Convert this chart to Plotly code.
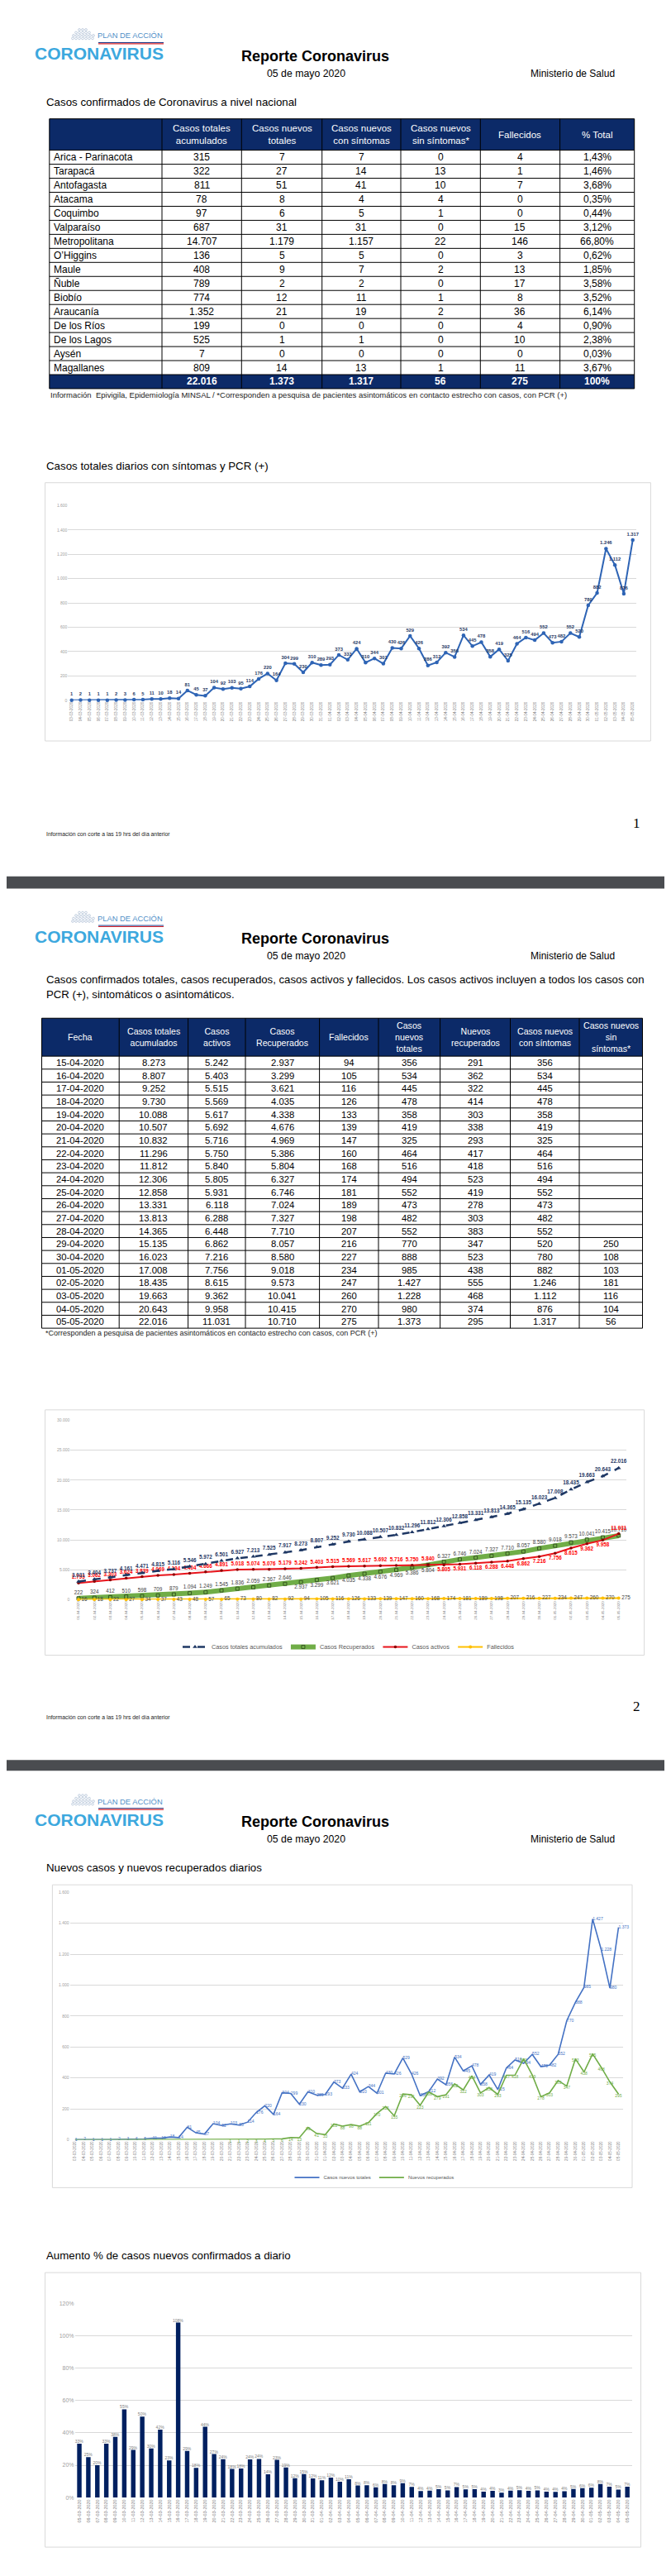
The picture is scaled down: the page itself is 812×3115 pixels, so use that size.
import pandas as pd
import plotly.graph_objects as go

W, H = 812, 3115
FONT = "Liberation Sans, Arial, sans-serif"
NAVY = "#0C2A68"

# ---------------- DATA ----------------
regiones = ["Arica - Parinacota", "Tarapacá", "Antofagasta", "Atacama", "Coquimbo", "Valparaíso",
            "Metropolitana", "O’Higgins", "Maule", "Ñuble", "Biobío", "Araucanía", "De los Ríos",
            "De los Lagos", "Aysén", "Magallanes"]
reg_totales_acum = [315, 322, 811, 78, 97, 687, 14707, 136, 408, 789, 774, 1352, 199, 525, 7, 809]
reg_nuevos_totales = [7, 27, 51, 8, 6, 31, 1179, 5, 9, 2, 12, 21, 0, 1, 0, 14]
reg_nuevos_con_sint = [7, 14, 41, 4, 5, 31, 1157, 5, 7, 2, 11, 19, 0, 1, 0, 13]
reg_nuevos_sin_sint = [0, 13, 10, 4, 1, 0, 22, 0, 2, 0, 1, 2, 0, 0, 0, 1]
reg_fallecidos = [4, 1, 7, 0, 0, 15, 146, 3, 13, 17, 8, 36, 4, 10, 0, 11]
reg_pct_total = ["1,43%", "1,46%", "3,68%", "0,35%", "0,44%", "3,12%", "66,80%", "0,62%", "1,85%",
                 "3,58%", "3,52%", "6,14%", "0,90%", "2,38%", "0,03%", "3,67%"]
fila_total = ["", "22.016", "1.373", "1.317", "56", "275", "100%"]
t1_encabezados = ["", "Casos totales<br>acumulados", "Casos nuevos<br>totales",
                  "Casos nuevos<br>con síntomas", "Casos nuevos<br>sin síntomas*", "Fallecidos",
                  "% Total"]

t2_fechas = ["15-04-2020", "16-04-2020", "17-04-2020", "18-04-2020", "19-04-2020", "20-04-2020",
             "21-04-2020", "22-04-2020", "23-04-2020", "24-04-2020", "25-04-2020", "26-04-2020",
             "27-04-2020", "28-04-2020", "29-04-2020", "30-04-2020", "01-05-2020", "02-05-2020",
             "03-05-2020", "04-05-2020", "05-05-2020"]
t2_totales = [8273, 8807, 9252, 9730, 10088, 10507, 10832, 11296, 11812, 12306, 12858, 13331, 13813,
              14365, 15135, 16023, 17008, 18435, 19663, 20643, 22016]
t2_activos = [5242, 5403, 5515, 5569, 5617, 5692, 5716, 5750, 5840, 5805, 5931, 6118, 6288, 6448,
              6862, 7216, 7756, 8615, 9362, 9958, 11031]
t2_recuperados = [2937, 3299, 3621, 4035, 4338, 4676, 4969, 5386, 5804, 6327, 6746, 7024, 7327, 7710,
                  8057, 8580, 9018, 9573, 10041, 10415, 10710]
t2_fallecidos = [94, 105, 116, 126, 133, 139, 147, 160, 168, 174, 181, 189, 198, 207, 216, 227, 234,
                 247, 260, 270, 275]
t2_nuevos_totales = [356, 534, 445, 478, 358, 419, 325, 464, 516, 494, 552, 473, 482, 552, 770, 888,
                     985, 1427, 1228, 980, 1373]
t2_nuevos_recuperados = [291, 362, 322, 414, 303, 338, 293, 417, 418, 523, 419, 278, 303, 383, 347,
                         523, 438, 555, 468, 374, 295]
t2_con_sintomas = [356, 534, 445, 478, 358, 419, 325, 464, 516, 494, 552, 473, 482, 552, 520, 780,
                   882, 1246, 1112, 876, 1317]
t2_sin_sintomas = [None] * 14 + [250, 108, 103, 181, 116, 104, 56]
t2_encabezados = ["Fecha", "Casos totales<br>acumulados", "Casos<br>activos", "Casos<br>Recuperados",
                  "Fallecidos", "Casos<br>nuevos<br>totales", "Nuevos<br>recuperados",
                  "Casos nuevos<br>con síntomas", "Casos nuevos<br>sin<br>síntomas*"]

# Chart 1: daily new cases with symptoms, 03-03-2020 .. 05-05-2020
fechas_c1 = [d.strftime("%d-%m-%Y") for d in pd.date_range("2020-03-03", "2020-05-05")]
c1_con_sintomas = [1, 2, 1, 1, 1, 2, 3, 6, 5, 11, 10, 18, 14, 81, 45, 37, 104, 92, 103, 95, 114, 176,
                   220, 164, 304, 299, 230, 310, 289, 293, 373, 333, 424, 310, 344, 301, 430, 426, 529,
                   426, 286, 312, 392, 356, 534, 445, 478, 358, 419, 325, 464, 516, 494, 552, 473, 482,
                   552, 520, 780, 882, 1246, 1112, 876, 1317]

# Chart 2: 01-04-2020 .. 05-05-2020
fechas_c2 = [d.strftime("%d-%m-%Y") for d in pd.date_range("2020-04-01", "2020-05-05")]
c2_totales = [3031, 3404, 3737, 4161, 4471, 4815, 5116, 5546, 5972, 6501, 6927, 7213, 7525, 7917,
              8273, 8807, 9252, 9730, 10088, 10507, 10832, 11296, 11812, 12306, 12858, 13331, 13813,
              14365, 15135, 16023, 17008, 18435, 19663, 20643, 22016]
c2_recuperados = [222, 324, 412, 510, 598, 709, 879, 1094, 1249, 1545, 1836, 2059, 2367, 2646, 2937,
                  3299, 3621, 4035, 4338, 4676, 4969, 5386, 5804, 6327, 6746, 7024, 7327, 7710, 8057,
                  8580, 9018, 9573, 10041, 10415, 10710]
c2_activos = [2793, 3062, 3303, 3624, 3839, 4069, 4194, 4404, 4666, 4891, 5018, 5074, 5076, 5179,
              5242, 5403, 5515, 5569, 5617, 5692, 5716, 5750, 5840, 5805, 5931, 6118, 6288, 6448,
              6862, 7216, 7756, 8615, 9362, 9958, 11031]
c2_fallecidos = [16, 18, 22, 27, 34, 37, 43, 48, 57, 65, 73, 80, 82, 92, 94, 105, 116, 126, 133, 139,
                 147, 160, 168, 174, 181, 189, 198, 207, 216, 227, 234, 247, 260, 270, 275]

# Chart 3: 03-03-2020 .. 05-05-2020
c3_nuevos_totales = [1, 2, 1, 1, 1, 2, 3, 6, 5, 11, 10, 18, 14, 81, 45, 37, 104, 92, 103, 95, 114,
                     176, 220, 164, 304, 299, 230, 310, 289, 293, 373, 333, 424, 310, 344, 301, 430,
                     426, 529, 426, 286, 312, 392, 356, 534, 445, 478, 358, 419, 325, 464, 516, 494,
                     552, 473, 482, 552, 770, 888, 985, 1427, 1228, 980, 1373]
c3_nuevos_recuperados = [0, 0, 0, 0, 0, 0, 0, 0, 0, 0, 0, 0, 0, 0, 0, 0, 0, 0, 1, 1, 2, 3, 4, 5, 6,
                         14, 13, 80, 41, 33, 102, 88, 98, 88, 111, 170, 215, 155, 296, 291, 223, 308,
                         279, 291, 362, 322, 414, 303, 338, 293, 417, 418, 523, 419, 278, 303, 383,
                         347, 523, 438, 555, 468, 374, 295]

# Chart 4: 05-03-2020 .. 05-05-2020 (% daily increase)
fechas_c4 = [d.strftime("%d-%m-%Y") for d in pd.date_range("2020-03-05", "2020-05-05")]
c4_aumento = [33.3, 25.0, 20.0, 33.3, 37.5, 54.5, 29.4, 50.0, 30.3, 41.9, 23.0, 108.0, 28.8, 18.4,
              43.7, 26.9, 23.7, 17.7, 18.0, 23.6, 23.9, 14.4, 23.3, 18.6, 12.0, 14.5, 11.8, 10.7,
              12.3, 9.8, 11.3, 7.5, 7.7, 6.3, 8.4, 7.7, 8.9, 6.6, 4.1, 4.3, 5.2, 4.5, 6.5, 5.1, 5.2,
              3.7, 4.2, 3.1, 4.3, 4.6, 4.2, 4.5, 3.7, 3.6, 4.0, 5.4, 5.9, 6.1, 8.4, 6.7, 5.0, 6.7]


# ---------------- HELPERS ----------------
def fmt(v):
    return "" if v is None else f"{v:,}".replace(",", ".")


def dx(a, b):
    return [a / W, b / W]


def dy(top, bottom):
    return [1 - bottom / H, 1 - top / H]


annotations = []
shapes = []


def txt(x, y, s, size, color="#000000", xanchor="left", yanchor="middle", family=FONT, bold=False):
    annotations.append(dict(x=x / W, y=1 - y / H, xref="paper", yref="paper", text=s,
                            showarrow=False, xanchor=xanchor, yanchor=yanchor, borderpad=0,
                            font=dict(size=size, color=color, family=family,
                                      weight="bold" if bold else "normal")))


def rect(x0, y0, x1, y1, line_color="#D9D9D9", fill=None, width=1, layer="below"):
    shapes.append(dict(type="rect", xref="paper", yref="paper", x0=x0 / W, x1=x1 / W,
                       y0=1 - y1 / H, y1=1 - y0 / H,
                       line=dict(color=line_color, width=width) if width else dict(width=0),
                       fillcolor=fill if fill else "rgba(0,0,0,0)", layer=layer))


def seg(x0, y0, x1, y1, color, width=1):
    shapes.append(dict(type="line", xref="paper", yref="paper", x0=x0 / W, x1=x1 / W,
                       y0=1 - y0 / H, y1=1 - y1 / H, line=dict(color=color, width=width),
                       layer="above"))


def header(off):
    for yy, xs in [(24, [88, 92, 96]), (27.5, [84, 88, 92, 96, 100]),
                   (31, [81, 85, 89, 93, 97, 101, 105]), (34.5, [80, 84, 88, 92, 96, 100, 104])]:
        for xx in xs:
            shapes.append(dict(type="circle", xref="paper", yref="paper",
                               x0=(xx - 1.4) / W, x1=(xx + 1.4) / W,
                               y0=1 - (yy + off + 1.4) / H, y1=1 - (yy + off - 1.4) / H,
                               line=dict(color="#9FB4CC", width=0.6), fillcolor="rgba(0,0,0,0)"))
    txt(109, 31 + off, "PLAN DE ACCIÓN", 9.4, "#4F8FC7")
    seg(111, 39.6 + off, 190, 39.6 + off, "#1F3F8F", 1)
    seg(111, 41.0 + off, 190, 41.0 + off, "#D9262B", 1.2)
    txt(33, 53 + off, "CORONAVIRUS", 21, "#3CA8DE", bold=True)
    txt(373, 56 + off, "Reporte Coronavirus", 18, "#000000", xanchor="center", bold=True)
    txt(362, 77 + off, "05 de mayo 2020", 12.3, "#000000", xanchor="center")
    txt(685, 77 + off, "Ministerio de Salud", 12, "#000000", xanchor="center")


def tabla(xb, top, head_h, row_h, encabezados, columnas, alineacion, hsize, csize, fila_final=None):
    nrows = len(columnas[0]) + (1 if fila_final else 0)
    bottom = top + head_h + nrows * row_h
    rect(xb[0], top, xb[-1], top + head_h, fill=NAVY, width=0)
    if fila_final:
        rect(xb[0], bottom - row_h, xb[-1], bottom, fill=NAVY, width=0)
    seg(xb[0], top, xb[-1], top, "black", 1)
    for r in range(nrows + 1):
        yy = top + head_h + r * row_h
        seg(xb[0], yy, xb[-1], yy, "black", 1)
    for xx in xb:
        seg(xx, top, xx, bottom, "black", 1)
    for c, h in enumerate(encabezados):
        if h:
            txt((xb[c] + xb[c + 1]) / 2, top + head_h / 2, h, hsize, "white", xanchor="center")
    for c, col in enumerate(columnas):
        for r, v in enumerate(col):
            yy = top + head_h + (r + 0.5) * row_h
            if alineacion[c] == "left":
                txt(xb[c] + 4, yy, v, csize, "black")
            else:
                txt((xb[c] + xb[c + 1]) / 2, yy, v, csize, "black", xanchor="center")
        if fila_final and fila_final[c]:
            txt((xb[c] + xb[c + 1]) / 2, bottom - row_h / 2, fila_final[c], csize, "white",
                xanchor="center", bold=True)


traces = []

# ---------------- PAGE 1 ----------------
header(0)
txt(46.5, 112, "Casos confirmados de Coronavirus a nivel nacional", 13.3)

t1_cols = [regiones, [fmt(v) for v in reg_totales_acum], [fmt(v) for v in reg_nuevos_totales],
           [fmt(v) for v in reg_nuevos_con_sint], [fmt(v) for v in reg_nuevos_sin_sint],
           [fmt(v) for v in reg_fallecidos], reg_pct_total]
tabla([51.8, 188, 284.3, 381.7, 477, 573.3, 669.6, 759.7], 132, 38, 17, t1_encabezados, t1_cols,
      ["left"] + ["center"] * 6, 11.5, 12, fila_total)
txt(52, 467, "Información  Epivigila, Epidemiología MINSAL / *Corresponden a pesquisa de pacientes "
             "asintomáticos en contacto estrecho con casos, con PCR (+)", 9.5, "#222222")

txt(46.5, 553, "Casos totales diarios con síntomas y PCR (+)", 13.3)
rect(46.6, 573, 779.4, 886)
traces.append(go.Scatter(
    x=fechas_c1, y=c1_con_sintomas, xaxis="x", yaxis="y", mode="lines+markers+text",
    text=[fmt(v) for v in c1_con_sintomas], textposition="top center",
    textfont=dict(size=5.8, color="#1F3864", family=FONT, weight="bold"),
    line=dict(color="#2E64B5", width=2), marker=dict(size=4.5, color="#2E64B5"),
    showlegend=False, cliponaxis=False, hoverinfo="skip"))
txt(762, 986, "1", 17, "#000000", xanchor="center", family="Liberation Serif, Times New Roman, serif")
txt(46.6, 999, "Información con corte a las 19 hrs del día anterior", 6.8, "#222222")

# separator bands
rect(0, 1050, 812, 1065, fill="#4A4C50", width=0)
rect(0, 2121, 812, 2134, fill="#4A4C50", width=0)

# ---------------- PAGE 2 ----------------
header(1070)
txt(46.5, 1175, "Casos confirmados totales, casos recuperados, casos activos y fallecidos. Los casos "
                "activos incluyen a todos los casos con", 13.2)
txt(46.5, 1193, "PCR (+), sintomáticos o asintomáticos.", 13.2)

t2_cols = [t2_fechas, [fmt(v) for v in t2_totales], [fmt(v) for v in t2_activos],
           [fmt(v) for v in t2_recuperados], [fmt(v) for v in t2_fallecidos],
           [fmt(v) for v in t2_nuevos_totales], [fmt(v) for v in t2_nuevos_recuperados],
           [fmt(v) for v in t2_con_sintomas], [fmt(v) for v in t2_sin_sintomas]]
tabla([42.5, 136.2, 219.6, 289, 378.6, 450, 524.6, 609.5, 693, 769.5], 1222, 46, 15.7,
      t2_encabezados, t2_cols, ["center"] * 9, 10.6, 11.3)
txt(45.6, 1604, "*Corresponden a pesquisa de pacientes asintomáticos en contacto estrecho con casos, "
                "con PCR (+)", 9.0, "#222222")

rect(46.6, 1696.7, 771.6, 1994)
rec_pos = ["top center"] * 14 + ["bottom center"] * 9 + ["top center"] * 12
act_pos = ["top center"] * 23 + ["bottom center"] * 11 + ["top center"]
traces.append(go.Scatter(
    x=fechas_c2, y=c2_recuperados, xaxis="x2", yaxis="y2", mode="lines+markers+text",
    name="Casos Recuperados", legend="legend", legendrank=2,
    text=[fmt(v) for v in c2_recuperados], textposition=rec_pos,
    textfont=dict(size=6.3, color="#404040", family=FONT),
    line=dict(color="#70AD47", width=6),
    marker=dict(symbol="square", size=4, color="#70AD47", line=dict(color="#375623", width=1)),
    cliponaxis=False, hoverinfo="skip"))
traces.append(go.Scatter(
    x=fechas_c2, y=c2_activos, xaxis="x2", yaxis="y2", mode="lines+markers+text",
    name="Casos activos", legend="legend", legendrank=3,
    text=[fmt(v) for v in c2_activos], textposition=act_pos,
    textfont=dict(size=6.3, color="#FF0000", family=FONT, weight="bold"),
    line=dict(color="#E8141B", width=2), marker=dict(size=3.5, color="#8B0000"),
    cliponaxis=False, hoverinfo="skip"))
traces.append(go.Scatter(
    x=fechas_c2, y=c2_fallecidos, xaxis="x2", yaxis="y2", mode="lines+markers+text",
    name="Fallecidos", legend="legend", legendrank=4,
    text=[fmt(v) for v in c2_fallecidos], textposition="middle right",
    textfont=dict(size=6.3, color="#404040", family=FONT),
    line=dict(color="#FFC000", width=2), marker=dict(size=4, color="#FFC000"),
    cliponaxis=False, hoverinfo="skip"))
traces.append(go.Scatter(
    x=fechas_c2, y=c2_totales, xaxis="x2", yaxis="y2", mode="lines+markers+text",
    name="Casos totales acumulados", legend="legend", legendrank=1,
    text=[fmt(v) for v in c2_totales], textposition="top center",
    textfont=dict(size=6.3, color="#1F3864", family=FONT, weight="bold"),
    line=dict(color="#1F3864", width=2.5, dash="dash"),
    marker=dict(symbol="triangle-up", size=5, color="#1F3864"),
    cliponaxis=False, hoverinfo="skip"))
txt(762, 2056, "2", 17, "#000000", xanchor="center", family="Liberation Serif, Times New Roman, serif")
txt(46.6, 2069, "Información con corte a las 19 hrs del día anterior", 6.8, "#222222")

# ---------------- PAGE 3 ----------------
header(2140)
txt(46.5, 2252, "Nuevos casos y nuevos recuperados diarios", 13.3)
rect(55.4, 2272.3, 757, 2639.3)
traces.append(go.Scatter(
    x=fechas_c1, y=c3_nuevos_totales, xaxis="x3", yaxis="y3", mode="lines+text",
    name="Casos nuevos totales", legend="legend2",
    text=[fmt(v) for v in c3_nuevos_totales], textposition="middle right",
    textfont=dict(size=5, color="#4472C4", family=FONT),
    line=dict(color="#4472C4", width=1.6), cliponaxis=False, hoverinfo="skip"))
traces.append(go.Scatter(
    x=fechas_c1, y=c3_nuevos_recuperados, xaxis="x3", yaxis="y3", mode="lines+text",
    name="Nuevos recuperados", legend="legend2",
    text=[fmt(v) if v > 0 else "" for v in c3_nuevos_recuperados], textposition="bottom center",
    textfont=dict(size=5, color="#70AD47", family=FONT),
    line=dict(color="#70AD47", width=1.6), cliponaxis=False, hoverinfo="skip"))

txt(46.5, 2722, "Aumento % de casos nuevos confirmados a diario", 13.3)
rect(46.6, 2742.3, 767.5, 3075)
traces.append(go.Bar(
    x=fechas_c4, y=c4_aumento, xaxis="x4", yaxis="y4", width=0.5,
    marker=dict(color="#002060", line=dict(width=0)),
    text=[f"{int(v + 0.5)}%" for v in c4_aumento], textposition="outside", constraintext="none",
    textfont=dict(size=5, color="#7F7F7F", family=FONT),
    showlegend=False, cliponaxis=False, hoverinfo="skip"))

fig = go.Figure(data=traces)

GRID = "#D9D9D9"


def xax(dom, rng, cats, size):
    return dict(domain=dx(*dom), range=rng, type="category", tickmode="array", tickvals=cats,
                ticktext=cats, tickangle=-90, tickfont=dict(size=size, color="#808080", family=FONT),
                showgrid=False, showline=False, zeroline=False, ticks="", fixedrange=True)


def yax(dom, rng, dtick, size, suffix=""):
    return dict(domain=dy(*dom), range=rng, dtick=dtick, tickformat=",d", ticksuffix=suffix,
                tickfont=dict(size=size, color="#A0A0A0", family=FONT), gridcolor=GRID,
                gridwidth=1, zeroline=False, showline=False, ticks="", fixedrange=True)


fig.update_layout(
    width=W, height=H, margin=dict(l=0, r=0, t=0, b=0, pad=0),
    paper_bgcolor="white", plot_bgcolor="rgba(0,0,0,0)", separators=",.",
    font=dict(family=FONT, color="#000000"),
    xaxis=dict(xax((74.4, 762), [-0.4, 63.4], fechas_c1, 4.6), anchor="y"),
    yaxis=dict(yax((600.7, 836.7), [0, 1600], 200, 5), anchor="x"),
    xaxis2=dict(xax((77.4, 750.3), [-0.5, 34.5], fechas_c2, 4.4), anchor="y2"),
    yaxis2=dict(yax((1709.3, 1926.7), [0, 30000], 5000, 5), anchor="x2"),
    xaxis3=dict(xax((76.6, 745.7), [-0.6, 63.5], fechas_c1, 4.6), anchor="y3"),
    yaxis3=dict(yax((2281.3, 2581.3), [0, 1600], 200, 5), anchor="x3"),
    xaxis4=dict(xax((82.6, 756.6), [-0.5, 61.5], fechas_c4, 5.5), anchor="y4"),
    yaxis4=dict(yax((2779.3, 3015), [0, 120], 20, 7, "%"), anchor="x4"),
    legend=dict(orientation="h", x=414 / W, xanchor="center", y=1 - 1984 / H, yanchor="middle",
                font=dict(size=7.3, color="#595959", family=FONT), bgcolor="rgba(0,0,0,0)",
                itemwidth=30, traceorder="normal"),
    legend2=dict(orientation="h", x=445 / W, xanchor="center", y=1 - 2627 / H, yanchor="middle",
                 font=dict(size=6, color="#595959", family=FONT), bgcolor="rgba(0,0,0,0)",
                 itemwidth=30),
    annotations=annotations, shapes=shapes, bargap=0.5,
)

fig.write_html("out.html")
